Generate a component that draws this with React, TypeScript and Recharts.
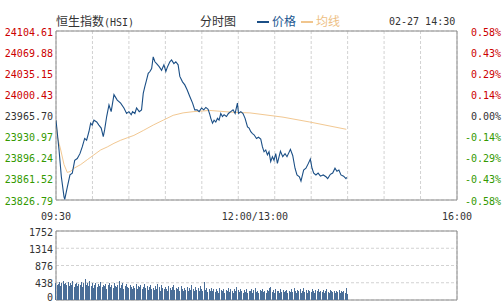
import { LineChart, ComposedChart, Line, Bar, XAxis, YAxis, CartesianGrid, ReferenceArea } from 'recharts'

const MONO = '"DejaVu Sans Mono", monospace'
const CJK = '"Noto Sans CJK SC", sans-serif'
const RED = '#cc0000'
const GREEN = '#339900'
const GRAY = '#333333'
const GRID = '#d2d2d2'
const BORDER = '#8c8c8c'

const BASE = 23965.7

// minutes since 09:30, lunch break removed (0..330)
const TIME_TICKS = [0, 30, 60, 90, 120, 150, 180, 210, 240, 270, 300, 330]
const TIME_LABELS: Record<number, string> = { 0: '09:30', 150: '12:00/13:00', 330: '16:00' }

const PRICE_TICKS = [24104.61, 24069.88, 24035.15, 24000.43, 23965.7, 23930.97, 23896.24, 23861.52, 23826.79]
const PRICE_LABELS = ['24104.61', '24069.88', '24035.15', '24000.43', '23965.70', '23930.97', '23896.24', '23861.52', '23826.79']
const PCT_LABELS = ['0.58%', '0.43%', '0.29%', '0.14%', '0.00%', '-0.14%', '-0.29%', '-0.43%', '-0.58%']

const VOL_TICKS = [0, 438, 876, 1314, 1752]

const PRICE_T = [
  0, 2.5, 4.4, 6.6, 7.2, 9.3, 11.5, 13.4, 15.4, 17.5, 19.7, 21.6, 23.6, 25.2, 27.1, 28.5, 29.8, 31.2, 33.5, 35.3,
  37.2, 38.9, 40, 41.7, 43.6, 45.4, 47.7, 50.4, 53.2, 55.9, 58.1, 60, 61.9, 63, 64.9, 66.3, 68.5, 70.4, 71.8, 73.1,
  74.5, 75.9, 77.3, 78.7, 80, 81.4, 82.8, 84.9, 86.9, 88.8, 90.4, 91.8, 93.7, 95.1, 97, 98.6, 100.5, 101.9, 104.1, 106,
  107.9, 110.1, 112.4, 114.2, 116.1, 117.8, 119.8, 121.6, 123.3, 125.2, 126.6, 127.4, 128.8, 130.1, 131.5, 132.9, 134.2, 135.6, 137, 138.3,
  140.3, 141.9, 143.8, 145.7, 147.4, 149.3, 150.2, 152.1, 153.9, 155.6, 157.6, 158.9, 160.3, 161.7, 163, 165, 166.6, 168.5, 169.9, 171.2,
  172.6, 174, 175.3, 176.7, 178.1, 179.4, 180.8, 182.2, 184.7, 186.6, 188.5, 190.1, 192.9, 194.8, 196.7, 198.3, 200.3, 201.6, 203.8, 205.7,
  207.7, 209.3, 210.7, 212.1, 213.9, 215.7, 217.6, 219.9, 222.2, 223.6, 225.8, 227.7, 229.6, 231.2, 232.8, 234.5, 236.7, 238.6, 239.2,
]
const PRICE_V = [
  23958, 23909, 23865, 23832, 23828, 23848, 23868, 23871, 23892, 23895, 23903, 23914, 23928, 23925, 23939, 23953, 23950, 23958, 23955, 23950,
  23945, 23931, 23942, 23964, 23983, 23972, 24000, 23991, 23986, 23978, 23969, 23972, 23967, 23972, 23969, 23978, 23972, 23975, 24002, 24013,
  24024, 24035, 24038, 24043, 24062, 24054, 24051, 24046, 24040, 24049, 24038, 24046, 24054, 24057, 24051, 24054, 24049, 24030, 24021, 24016,
  24008, 23997, 23986, 23975, 23975, 23972, 23978, 23975, 23979, 23976, 23967, 23961, 23953, 23958, 23955, 23961, 23958, 23969, 23964, 23967,
  23964, 23969, 23972, 23975, 23969, 23986, 23969, 23972, 23969, 23961, 23947, 23945, 23939, 23936, 23934, 23928, 23930, 23927, 23914, 23906,
  23909, 23901, 23906, 23890, 23898, 23892, 23903, 23887, 23907, 23898, 23903, 23898, 23910, 23900, 23879, 23868, 23865, 23858, 23876, 23879,
  23887, 23894, 23879, 23871, 23868, 23871, 23866, 23868, 23865, 23862, 23869, 23871, 23879, 23874, 23876, 23868, 23866, 23862, 23864,
]

const AVG_T = [0, 1.1, 3.9, 6.6, 9.3, 12.1, 14.8, 20.3, 25.7, 31.2, 36.7, 42.2, 47.7, 53.2, 58.6, 64.1, 71.8, 80, 88.2, 96.4, 104.6, 112.8, 126.6, 145.5, 159.5, 186.8, 208.8, 238.9]
const AVG_V = [23958, 23931, 23909, 23885, 23872, 23874, 23879, 23885, 23893, 23901, 23909, 23914, 23920, 23925, 23929, 23933, 23941, 23950, 23958, 23966, 23970, 23972, 23974, 23971, 23970, 23963, 23955, 23943]

// per-minute volume, 09:30 .. 14:30
const VOLUME = [
  430, 380, 410, 450, 360, 420, 480, 400, 440, 390,
  460, 350, 420, 380, 470, 330, 400, 440, 360, 410,
  390, 450, 340, 420, 530, 380, 440, 360, 470, 350,
  420, 310, 390, 440, 330, 400, 360, 450, 320, 380,
  350, 410, 290, 380, 440, 330, 370, 300, 420, 360,
  340, 390, 480, 310, 370, 420, 290, 350, 400, 330,
  300, 380, 340, 270, 360, 310, 400, 290, 350, 320,
  380, 280, 340, 410, 300, 360, 260, 330, 390, 290,
  310, 250, 350, 280, 400, 320, 240, 370, 300, 270,
  340, 290, 230, 360, 310, 260, 330, 380, 250, 300,
  270, 320, 240, 350, 290, 220, 310, 260, 340, 230,
  300, 250, 370, 280, 220, 330, 260, 300, 240, 350,
  280, 230, 465, 260, 300, 210, 280, 240, 310, 220,
  270, 200, 290, 240, 180, 310, 250, 220, 280, 190,
  260, 230, 300, 200, 270, 240, 180, 290, 220, 337,
  250, 200, 280, 230, 190, 260, 210, 290, 180, 240,
  220, 270, 190, 250, 300, 210, 230, 180, 260, 220,
  280, 200, 240, 190, 260, 230, 300, 337, 210, 250,
  190, 270, 220, 240, 180, 290, 210, 250, 200, 230,
  260, 180, 240, 210, 280, 200, 305, 230, 190, 250,
  220, 270, 190, 240, 300, 210, 250, 180, 260, 230,
  200, 280, 220, 190, 250, 230, 270, 200, 240, 210,
  260, 190, 230, 280, 210, 180, 250, 220, 200, 240,
  190, 230, 210, 260, 180, 220, 200, 240, 170, 305,
  150,
]

const priceData = PRICE_T.map((t, i) => ({ t, v: PRICE_V[i] }))
const avgData = AVG_T.map((t, i) => ({ t, v: AVG_V[i] }))
const volData = VOLUME.map((v, t) => ({ t, v }))

const idxOf = (arr: number[], v: number) => arr.findIndex(a => Math.abs(a - v) < 0.01)

const PriceTick = (props: any) => {
  const i = idxOf(PRICE_TICKS, props.payload.value)
  if (i < 0) return null
  const v = PRICE_TICKS[i]
  const fill = v > BASE + 0.01 ? RED : v < BASE - 0.01 ? GREEN : GRAY
  return (
    <text x={53} y={props.y + 4.5} textAnchor="end" fill={fill} fontSize={10} fontFamily={MONO}>
      {PRICE_LABELS[i]}
    </text>
  )
}

const PctTick = (props: any) => {
  const i = idxOf(PRICE_TICKS, props.payload.value)
  if (i < 0) return null
  const v = PRICE_TICKS[i]
  const fill = v > BASE + 0.01 ? RED : v < BASE - 0.01 ? GREEN : GRAY
  return (
    <text x={501} y={props.y + 4.5} textAnchor="end" fill={fill} fontSize={10} fontFamily={MONO}>
      {PCT_LABELS[i]}
    </text>
  )
}

const TimeTick = (props: any) => {
  const label = TIME_LABELS[props.payload.value]
  if (!label) return null
  const mid = props.payload.value === 150
  return (
    <text x={mid ? props.x - 16.5 : props.x} y={220} textAnchor={mid ? 'start' : 'middle'} fill={GRAY} fontSize={10} fontFamily={MONO}>
      {label}
    </text>
  )
}

const VolTick = (props: any) => {
  // keep the bottom "0" inside the picture
  const y = props.payload.value === 0 ? props.y + 1 : props.y + 4.5
  return (
    <text x={53} y={y} textAnchor="end" fill={GRAY} fontSize={10} fontFamily={MONO}>
      {props.payload.value}
    </text>
  )
}

export default function App() {
  const lo = PRICE_TICKS[PRICE_TICKS.length - 1]
  const hi = PRICE_TICKS[0]
  return (
    <div style={{ position: 'absolute', left: 0, top: 0, width: 502, height: 302, background: '#fff' }}>
      <div style={{ position: 'absolute', left: 56, top: 14, fontFamily: CJK, fontSize: 12, lineHeight: '14px', color: GRAY, whiteSpace: 'nowrap' }}>
        恒生指数<span style={{ fontFamily: MONO, fontSize: 10 }}>(HSI)</span>
      </div>
      <div style={{ position: 'absolute', left: 200, top: 14, fontFamily: CJK, fontSize: 12, lineHeight: '14px', color: GRAY }}>分时图</div>
      <div style={{ position: 'absolute', left: 257, top: 21, width: 12, height: 2, background: '#1b4f86' }} />
      <div style={{ position: 'absolute', left: 272, top: 14, fontFamily: CJK, fontSize: 12, lineHeight: '14px', color: '#1d5791' }}>价格</div>
      <div style={{ position: 'absolute', left: 301, top: 21, width: 12, height: 2, background: '#f0c58e' }} />
      <div style={{ position: 'absolute', left: 316, top: 14, fontFamily: CJK, fontSize: 12, lineHeight: '14px', color: '#eebf85' }}>均线</div>
      <div style={{ position: 'absolute', left: 389, top: 15, fontFamily: MONO, fontSize: 10, lineHeight: '14px', color: GRAY, whiteSpace: 'nowrap' }}>02-27 14:30</div>

      <div style={{ position: 'absolute', left: 0, top: 0 }}>
        <LineChart width={502} height={222} margin={{ top: 31, right: 0, bottom: 0, left: 0 }}>
          <CartesianGrid stroke={GRID} strokeDasharray="3 2" />
          <XAxis type="number" dataKey="t" domain={[0, 330]} ticks={TIME_TICKS} interval={0} height={22}
            axisLine={false} tickLine={false} tick={<TimeTick />} allowDataOverflow />
          <YAxis yAxisId="l" type="number" domain={[lo, hi]} ticks={PRICE_TICKS} interval={0} width={56}
            axisLine={false} tickLine={false} tick={<PriceTick />} allowDataOverflow />
          <YAxis yAxisId="r" orientation="right" type="number" domain={[lo, hi]} ticks={PRICE_TICKS} interval={0} width={45}
            axisLine={false} tickLine={false} tick={<PctTick />} allowDataOverflow />
          <Line yAxisId="r" data={avgData} dataKey="v" stroke="#f2c892" strokeWidth={1} dot={false} isAnimationActive={false} />
          <Line yAxisId="l" data={priceData} dataKey="v" stroke="#1b4f86" strokeWidth={1.1} dot={false} isAnimationActive={false} />
          <ReferenceArea yAxisId="l" x1={0} x2={330} y1={lo} y2={hi} fill="none" stroke={BORDER} strokeWidth={1} ifOverflow="visible" />
        </LineChart>
      </div>

      <div style={{ position: 'absolute', left: 0, top: 222 }}>
        <ComposedChart width={502} height={80} data={volData} margin={{ top: 9, right: 45, bottom: 2, left: 0 }}>
          <CartesianGrid stroke={GRID} strokeDasharray="3 2" />
          <XAxis type="number" dataKey="t" domain={[0, 330]} ticks={TIME_TICKS} interval={0} height={0}
            axisLine={false} tickLine={false} tick={false} />
          <YAxis type="number" domain={[0, 1752]} ticks={VOL_TICKS} interval={0} width={56}
            axisLine={false} tickLine={false} tick={<VolTick />} />
          <Bar dataKey="v" fill="#4a6e98" barSize={1} shapeRendering="crispEdges" isAnimationActive={false} />
          <ReferenceArea x1={0} x2={330} y1={0} y2={1752} fill="none" stroke={BORDER} strokeWidth={1} ifOverflow="visible" />
        </ComposedChart>
      </div>
    </div>
  )
}
